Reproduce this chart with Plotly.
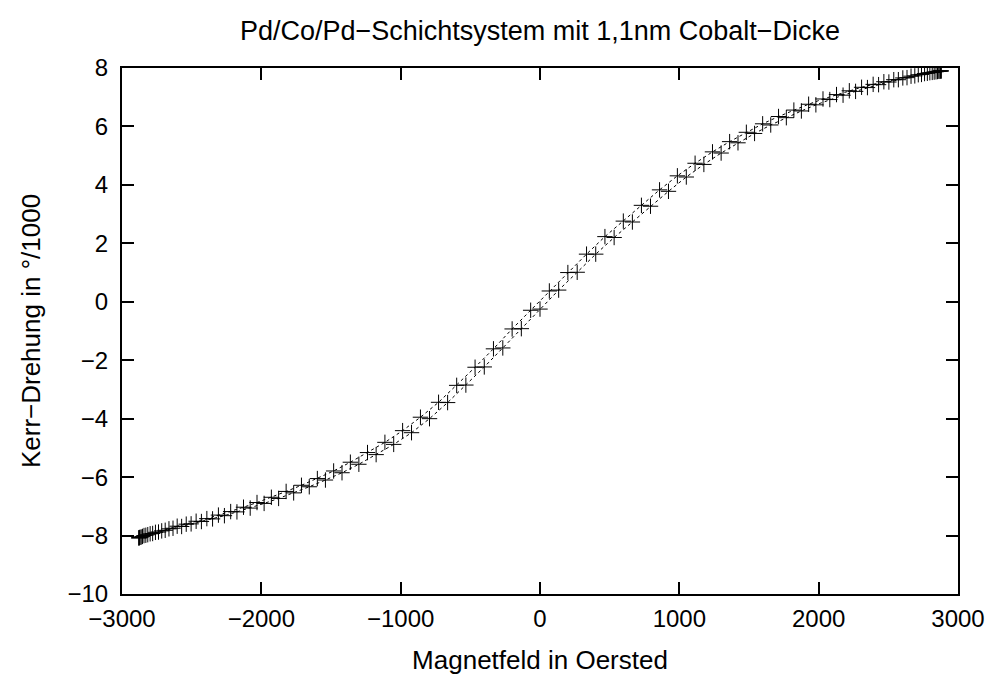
import plotly.graph_objects as go

# Ascending branch (field swept from negative to positive saturation)
up_field = [-2880, -2875, -2862, -2842, -2815, -2780, -2738, -2690, -2634, -2572, -2504, -2430,
            -2350, -2265, -2175, -2080, -1980, -1876, -1768, -1656, -1540, -1421, -1300, -1176,
            -1050, -922, -793, -663, -532, -400, -267, -134, 0, 134, 267, 400, 532, 663, 793,
            922, 1050, 1176, 1300, 1421, 1540, 1656, 1768, 1876, 1980, 2080, 2175, 2265, 2350,
            2430, 2504, 2572, 2634, 2690, 2738, 2780, 2815, 2842, 2862, 2875, 2880]
up_kerr = [-8.08, -8.07, -8.05, -8.00, -7.97, -7.93, -7.88, -7.82, -7.75, -7.69, -7.60, -7.52,
           -7.43, -7.32, -7.19, -7.06, -6.90, -6.73, -6.54, -6.33, -6.10, -5.85, -5.56, -5.23,
           -4.88, -4.48, -4.00, -3.45, -2.85, -2.23, -1.58, -0.92, -0.25, 0.40, 1.01, 1.63, 2.20,
           2.73, 3.27, 3.78, 4.27, 4.70, 5.09, 5.44, 5.76, 6.05, 6.30, 6.53, 6.74, 6.92, 7.07,
           7.20, 7.33, 7.43, 7.52, 7.60, 7.67, 7.73, 7.78, 7.82, 7.85, 7.87, 7.89, 7.90, 7.90]

# Descending branch (field swept from positive to negative saturation)
down_field = [2878, 2870, 2853, 2829, 2798, 2760, 2715, 2663, 2604, 2539, 2468, 2391, 2308, 2220,
              2128, 2031, 1928, 1822, 1712, 1598, 1481, 1361, 1238, 1113, 986, 858, 728, 598, 466,
              334, 200, 67, -67, -200, -334, -466, -598, -728, -858, -986, -1113, -1238, -1361,
              -1481, -1598, -1712, -1822, -1928, -2031, -2128, -2220, -2308, -2391, -2468, -2539,
              -2604, -2663, -2715, -2760, -2798, -2829, -2853, -2870, -2878]
down_kerr = [7.90, 7.89, 7.88, 7.86, 7.84, 7.81, 7.77, 7.72, 7.66, 7.60, 7.53, 7.44, 7.34, 7.22,
             7.09, 6.94, 6.76, 6.56, 6.34, 6.09, 5.80, 5.48, 5.13, 4.74, 4.31, 3.83, 3.30, 2.76,
             2.23, 1.63, 1.00, 0.37, -0.29, -0.93, -1.61, -2.24, -2.86, -3.44, -3.95, -4.41,
             -4.81, -5.16, -5.49, -5.79, -6.05, -6.28, -6.49, -6.69, -6.87, -7.03, -7.18, -7.30,
             -7.42, -7.51, -7.61, -7.68, -7.77, -7.84, -7.89, -7.94, -7.99, -8.03, -8.06, -8.08]

x_ticks = [-3000, -2000, -1000, 0, 1000, 2000, 3000]
y_ticks = [-10, -8, -6, -4, -2, 0, 2, 4, 6, 8]

FONT = "Liberation Sans, Arial, Helvetica, sans-serif"
TICK_SIZE = 24
LABEL_SIZE = 26
TITLE_SIZE = 27

fig = go.Figure()
for xs, ys in ((up_field, up_kerr), (down_field, down_kerr)):
    fig.add_trace(go.Scatter(
        x=xs, y=ys, mode="lines+markers",
        line=dict(color="black", width=1, dash="dot"),
        marker=dict(symbol="cross-thin", size=11, line=dict(color="black", width=1)),
        showlegend=False,
    ))

axis_common = dict(
    showgrid=False, zeroline=False, showline=True, linecolor="black", linewidth=2,
    mirror="ticks", ticks="inside", ticklen=12, tickwidth=1.5, tickcolor="black",
    tickfont=dict(family=FONT, size=TICK_SIZE, color="black"),
)

fig.update_layout(
    width=994, height=680,
    paper_bgcolor="white", plot_bgcolor="white",
    margin=dict(l=114, r=44, t=60, b=94),
    font=dict(family=FONT, size=TICK_SIZE, color="black"),
    title=dict(text="Pd/Co/Pd−Schichtsystem mit 1,1nm Cobalt−Dicke",
               x=0.5, xref="paper", xanchor="center", y=0.967, yanchor="middle",
               font=dict(family=FONT, size=TITLE_SIZE, color="black")),
    xaxis=dict(range=[-3000, 3000], tickvals=x_ticks, ticklabelstandoff=2,
               title=dict(text="Magnetfeld in Oersted", font=dict(family=FONT, size=LABEL_SIZE), standoff=20),
               **axis_common),
    yaxis=dict(range=[-10, 8], tickvals=y_ticks, ticklabelstandoff=7,
               title=dict(text="Kerr−Drehung in °/1000", font=dict(family=FONT, size=LABEL_SIZE), standoff=19),
               **axis_common),
)

fig.write_html("out.html")
